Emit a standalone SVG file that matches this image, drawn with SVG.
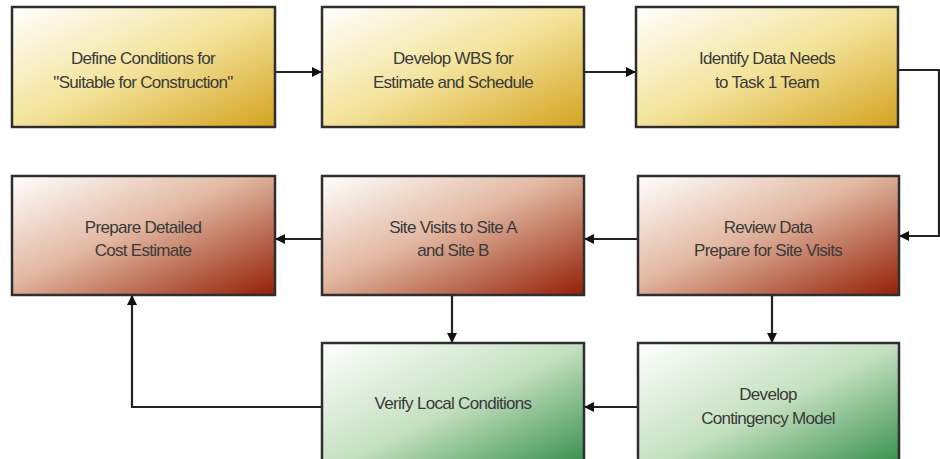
<svg xmlns="http://www.w3.org/2000/svg" width="940" height="459" viewBox="0 0 940 459">
<defs>
<linearGradient id="gy" x1="0" y1="0" x2="1" y2="1">
<stop offset="0" stop-color="#ffffff"/>
<stop offset="0.5" stop-color="#f3e39a"/>
<stop offset="1" stop-color="#d4a321"/>
</linearGradient>
<linearGradient id="gr" x1="0" y1="0" x2="1" y2="1">
<stop offset="0" stop-color="#ffffff"/>
<stop offset="0.45" stop-color="#e2b8a2"/>
<stop offset="1" stop-color="#941f06"/>
</linearGradient>
<linearGradient id="gg" x1="0" y1="0" x2="1" y2="1">
<stop offset="0" stop-color="#ffffff"/>
<stop offset="0.5" stop-color="#c4e0c0"/>
<stop offset="1" stop-color="#2e8a45"/>
</linearGradient>
<marker id="ah" markerWidth="10" markerHeight="10" refX="9" refY="5" orient="auto" markerUnits="userSpaceOnUse">
<path d="M0,0 L10,5 L0,10 Z" fill="#111"/>
</marker>
</defs>
<style>
.box{stroke:#2e2e2e;stroke-width:2.5}
.y{fill:url(#gy)}
.r{fill:url(#gr)}
.g{fill:url(#gg)}
text{font-family:"Liberation Sans",Arial,sans-serif;font-size:17px;fill:#3a3a3a;text-anchor:middle;letter-spacing:-0.7px}
.c{fill:none;stroke:#222;stroke-width:2.2}
</style>
<g id="connectors">
<path class="c" d="M275,72 H321" marker-end="url(#ah)"/>
<path class="c" d="M584,72 H635" marker-end="url(#ah)"/>
<path class="c" d="M898,70 H939 V236 H900" marker-end="url(#ah)"/>
<path class="c" d="M637,239 H585" marker-end="url(#ah)"/>
<path class="c" d="M322,239 H276" marker-end="url(#ah)"/>
<path class="c" d="M452,295 V342" marker-end="url(#ah)"/>
<path class="c" d="M772,295 V342" marker-end="url(#ah)"/>
<path class="c" d="M637,407 H585" marker-end="url(#ah)"/>
<path class="c" d="M322,407 H132 V296" marker-end="url(#ah)"/>
</g>
<g id="n1"><rect class="box y" x="12" y="7" width="263" height="120"/><text x="143" y="64">Define Conditions for</text><text x="143" y="88">"Suitable for Construction"</text></g>
<g id="n2"><rect class="box y" x="322" y="7" width="262" height="120"/><text x="453" y="64">Develop WBS for</text><text x="453" y="88">Estimate and Schedule</text></g>
<g id="n3"><rect class="box y" x="636" y="7" width="262" height="120"/><text x="767" y="64">Identify Data Needs</text><text x="767" y="88">to Task 1 Team</text></g>
<g id="n4"><rect class="box r" x="12" y="176" width="263" height="119"/><text x="143" y="233">Prepare Detailed</text><text x="143" y="256">Cost Estimate</text></g>
<g id="n5"><rect class="box r" x="322" y="176" width="262" height="119"/><text x="453" y="233">Site Visits to Site A</text><text x="453" y="256">and Site B</text></g>
<g id="n6"><rect class="box r" x="638" y="176" width="261" height="119"/><text x="768" y="233">Review Data</text><text x="768" y="256">Prepare for Site Visits</text></g>
<g id="n7"><rect class="box g" x="322" y="343" width="262" height="130"/><text x="453" y="409">Verify Local Conditions</text></g>
<g id="n8"><rect class="box g" x="638" y="343" width="261" height="130"/><text x="768" y="400">Develop</text><text x="768" y="424">Contingency Model</text></g>
</svg>
